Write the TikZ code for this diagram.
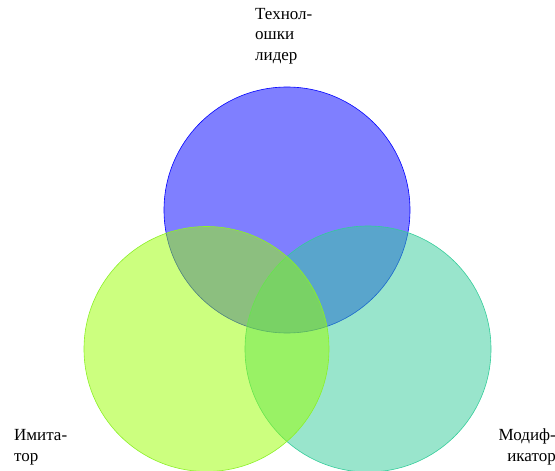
\documentclass[tikz,border=0pt]{standalone}
\usepackage{fontspec}
\setmainfont{Liberation Serif}
\usetikzlibrary{positioning}
\definecolor{liderblue}{RGB}{0,0,255}
\definecolor{imitgreen}{RGB}{153,255,0}
\definecolor{imitedge}{RGB}{140,240,40}
\definecolor{modteal}{RGB}{51,204,153}
\tikzset{
  venn/.style={circle,inner sep=0pt,minimum size=246pt,line width=0.6pt,fill opacity=0.5},
  lbl/.style={font=\fontsize{17}{20.5}\selectfont,inner sep=0pt}
}
\begin{document}
\begin{tikzpicture}[x=1pt,y=-1pt]
        \useasboundingbox (0,0) rectangle (555,471);

        \node[venn,draw=liderblue,fill=liderblue] (lider) at (287,210) {};
        \node[venn,draw=modteal,fill=modteal] (modif) at (368,349) {};
        \node[venn,draw=imitedge,fill=imitgreen,minimum size=245pt] (imit) at (206.5,349) {};

        % labels
        \node[lbl,align=left,anchor=north west] (tlider) at (255,8) {Технол-\\ошки\\лидер};
        \node[lbl,align=left,anchor=south west] (timit) at (14,465) {Имита-\\тор};
        \node[lbl,align=right,anchor=south east] (tmodif) at (556,465) {Модиф-\\икатор};
\end{tikzpicture}
\end{document}
